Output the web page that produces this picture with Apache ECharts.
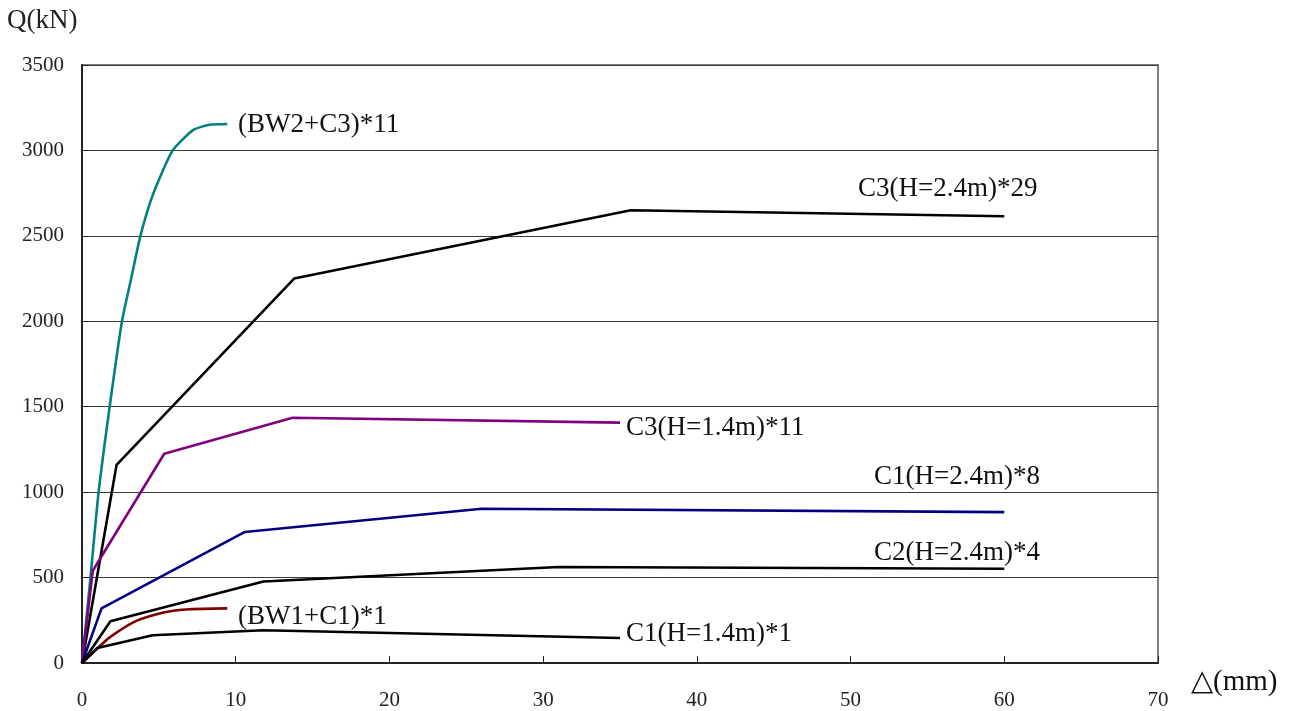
<!DOCTYPE html>
<html>
<head>
<meta charset="utf-8">
<script src="https://cdn.jsdelivr.net/npm/echarts@6/dist/echarts.min.js"></script>
<style>
html,body{margin:0;padding:0;background:#fff;}
#chart{width:1300px;height:711px;}
</style>
</head>
<body>
<div id="chart"></div>
<script>
// Data (x: displacement mm, y: shear kN)
const xTicks = [0, 10, 20, 30, 40, 50, 60, 70];
const yTicks = [0, 500, 1000, 1500, 2000, 2500, 3000, 3500];

const bw2c3_11 = [[0,0],[0.55,500],[1.08,1000],[1.8,1500],[2.6,2000],[3.2,2250],[3.8,2500],[4.65,2750],[5.9,3000],[7.25,3120],[8.3,3150],[9.45,3155]];
const c3h24_29 = [[0,0],[2.25,1160],[13.8,2250],[35.7,2650],[60,2615]];
const c3h14_11 = [[0,0],[0.7,540],[5.35,1225],[13.7,1435],[35,1407]];
const c1h24_8  = [[0,0],[1.27,320],[10.6,767],[26,903],[60,883]];
const c2h24_4  = [[0,0],[1.85,244],[11.8,477],[31,562],[60,552]];
const bw1c1_1  = [[0,0],[1.0,85],[1.8,150],[3.5,245],[5.3,296],[7,315],[9.45,320]];
const c1h14_1  = [[0,0],[1.0,88],[4.6,162],[11.8,192],[35,146]];

const names = ['(BW2+C3)*11','C3(H=2.4m)*29','C3(H=1.4m)*11','C1(H=2.4m)*8','C2(H=2.4m)*4','(BW1+C1)*1','C1(H=1.4m)*1'];

const chart = echarts.init(document.getElementById('chart'));
const FONT = '"Liberation Serif", "Times New Roman", serif';

function ln(name, data, color, smooth) {
  return {
    name: name, type: 'line', data: data, showSymbol: false, symbol: 'none',
    smooth: smooth || false, animation: false,
    lineStyle: {color: color, width: 2.6}
  };
}

const labelStyle = {fontFamily: FONT, fontSize: 27, fill: '#111'};
function txt(s, left, cy) {
  return {type: 'text', left: left, top: cy - 13, style: Object.assign({text: s}, labelStyle), silent: true};
}

chart.setOption({
  animation: false,
  backgroundColor: '#fff',
  grid: {left: 82, right: 142, top: 65, bottom: 47, show: true, borderColor: '#808080', borderWidth: 2, backgroundColor: 'transparent'},
  xAxis: {
    type: 'value', min: 0, max: 70, interval: 10,
    axisLine: {show: true, onZero: false, lineStyle: {color: '#222', width: 2}},
    axisTick: {show: true, inside: true, length: 7, lineStyle: {color: '#222'}},
    axisLabel: {margin: 27, color: '#222', fontFamily: FONT, fontSize: 21,
      formatter: v => xTicks.includes(v) ? String(v) : ''},
    splitLine: {show: false}
  },
  yAxis: {
    type: 'value', min: 0, max: 3500, interval: 500,
    axisLine: {show: true, onZero: false, lineStyle: {color: '#222', width: 2}},
    axisTick: {show: true, inside: true, length: 7, lineStyle: {color: '#222'}},
    axisLabel: {margin: 18, color: '#222', fontFamily: FONT, fontSize: 21,
      formatter: v => yTicks.includes(v) ? String(v) : ''},
    splitLine: {show: true, lineStyle: {color: '#3a3a3a', width: 1}}
  },
  series: [
    ln(names[0], bw2c3_11, '#008080', 0.2),
    ln(names[1], c3h24_29, '#000000'),
    ln(names[2], c3h14_11, '#800080'),
    ln(names[3], c1h24_8, '#000080'),
    ln(names[4], c2h24_4, '#000000'),
    ln(names[5], bw1c1_1, '#800000', 0.2),
    ln(names[6], c1h14_1, '#000000')
  ],
  graphic: [
    {type: 'text', left: 7, top: 7, style: {text: 'Q(kN)', fontFamily: FONT, fontSize: 27, fill: '#222'}},
    {type: 'text', left: 1191, top: 668, style: {text: '△(mm)', fontFamily: FONT, fontSize: 29, fill: '#111'}},
    txt(names[0], 238, 124),
    txt(names[1], 858, 188),
    txt(names[2], 626, 427),
    txt(names[3], 874, 476),
    txt(names[4], 874, 552),
    txt(names[5], 238, 616),
    txt(names[6], 626, 633)
  ]
});
</script>
</body>
</html>
